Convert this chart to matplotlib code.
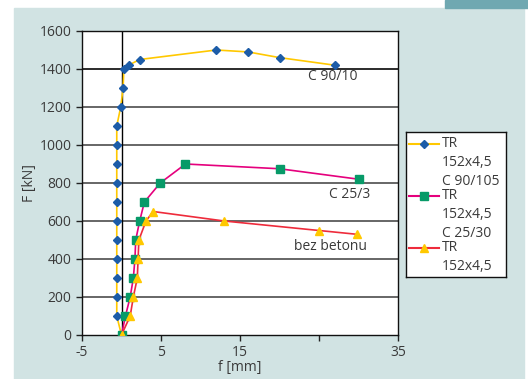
import matplotlib.pyplot as plt
from matplotlib.patches import Rectangle
from matplotlib.lines import Line2D

plt.rcParams['font.family'] = ['Open Sans', 'DejaVu Sans']

# C 90/105 series (blue diamonds, yellow line)
f_c90 = [0, -0.6, -0.6, -0.6, -0.6, -0.6, -0.6, -0.6, -0.6, -0.6, -0.6, -0.6,
         -0.1, 0.2, 0.3, 0.9, 2.3, 12, 16, 20, 27]
F_c90 = [0, 100, 200, 300, 400, 500, 600, 700, 800, 900, 1000, 1100,
         1200, 1300, 1400, 1420, 1450, 1500, 1490, 1460, 1420]

# C 25/30 series (green squares, magenta line)
f_c25 = [0, 0.5, 1.1, 1.5, 1.7, 1.8, 2.3, 2.9, 4.9, 8.1, 20, 30]
F_c25 = [0, 100, 200, 300, 400, 500, 600, 700, 800, 900, 875, 820]

# bez betonu (yellow triangles, red line)
f_bez = [0, 1.1, 1.5, 2.0, 2.1, 2.2, 3.1, 4.0, 13, 25, 29.8]
F_bez = [0, 100, 200, 300, 400, 500, 600, 650, 600, 550, 530]

x_ticks = [-5, 5, 15, 25, 35]
x_ticklabels = ['-5', '5', '15', '', '35']
y_ticks = list(range(0, 1601, 200))

legend_labels = ['TR\n152x4,5\nC 90/105', 'TR\n152x4,5\nC 25/30', 'TR\n152x4,5']

txt = '#3a3a3a'
fs = 10
fig = plt.figure(figsize=(5.28, 3.79), dpi=100)
fig.patch.set_facecolor('white')

# background panels
fig.patches.append(Rectangle((14 / 528, 0), 510 / 528, 371 / 379,
                             transform=fig.transFigure, color='#d1e3e3', zorder=-10))
fig.patches.append(Rectangle((445 / 528, 371 / 379), 83 / 528, 8 / 379,
                             transform=fig.transFigure, color='#6fa8b1', zorder=-10))

ax = fig.add_axes([82 / 528, 44 / 379, 316 / 528, 304 / 379])
ax.set_facecolor('white')
ax.set_xlim(-5, 35)
ax.set_ylim(0, 1600)

for y in y_ticks[1:-1]:
    ax.axhline(y, color='#1a1a1a' if y == 1400 else '#5a5a5a', lw=1.3, zorder=1)
ax.axvline(0, color='black', lw=1, zorder=1)

ax.plot(f_c90, F_c90, color='#ffc800', lw=1.2, marker='D', ms=4.5,
        mfc='#1c5ca8', mec='#1c5ca8', zorder=3)
ax.plot(f_c25, F_c25, color='#e5007d', lw=1.2, marker='s', ms=6,
        mfc='#079a68', mec='#079a68', zorder=4)
ax.plot(f_bez, F_bez, color='#ee2b3b', lw=1.2, marker='^', ms=6.3,
        mfc='#ffc800', mec='#ffc800', zorder=5)

ax.text(26.8, 1358, 'C 90/10', ha='center', va='center', fontsize=fs, color=txt)
ax.text(28.9, 742, 'C 25/3', ha='center', va='center', fontsize=fs, color=txt)
ax.text(26.5, 468, 'bez betonu', ha='center', va='center', fontsize=fs, color=txt)

ax.set_xticks(x_ticks)
ax.set_xticklabels(x_ticklabels)
ax.set_yticks(y_ticks)
ax.tick_params(colors='#222222', labelcolor=txt, labelsize=fs, length=4, width=1)
for s in ax.spines.values():
    s.set_color('#111111')
    s.set_linewidth(1)
ax.set_xlabel('f [mm]', fontsize=fs, color=txt, labelpad=0)
ax.set_ylabel('F [kN]', fontsize=fs, color=txt, labelpad=2)

# legend box drawn in pixel coordinates
lg = fig.add_axes([406 / 528, 102 / 379, 100 / 528, 145 / 379])
lg.set_xlim(0, 100)
lg.set_ylim(145, 0)
lg.set_facecolor('white')
for s in lg.spines.values():
    s.set_color('#111111')
    s.set_linewidth(1)
lg.set_xticks([])
lg.set_yticks([])
styles = [('#ffc800', 'D', '#1c5ca8', 4.5),
          ('#e5007d', 's', '#079a68', 6),
          ('#ee2b3b', '^', '#ffc800', 6.3)]
for i, (lab, (lc, mk, mc, ms)) in enumerate(zip(legend_labels, styles)):
    yy = 12 + i * 52
    lg.add_line(Line2D([3, 33], [yy, yy], color=lc, lw=1.5))
    lg.add_line(Line2D([18], [yy], marker=mk, ms=ms, mfc=mc, mec=mc, ls='none'))
    lg.text(36, yy - 8, lab, ha='left', va='top', fontsize=fs, color=txt,
            linespacing=1.35)

fig.savefig('out.png', dpi=100)
